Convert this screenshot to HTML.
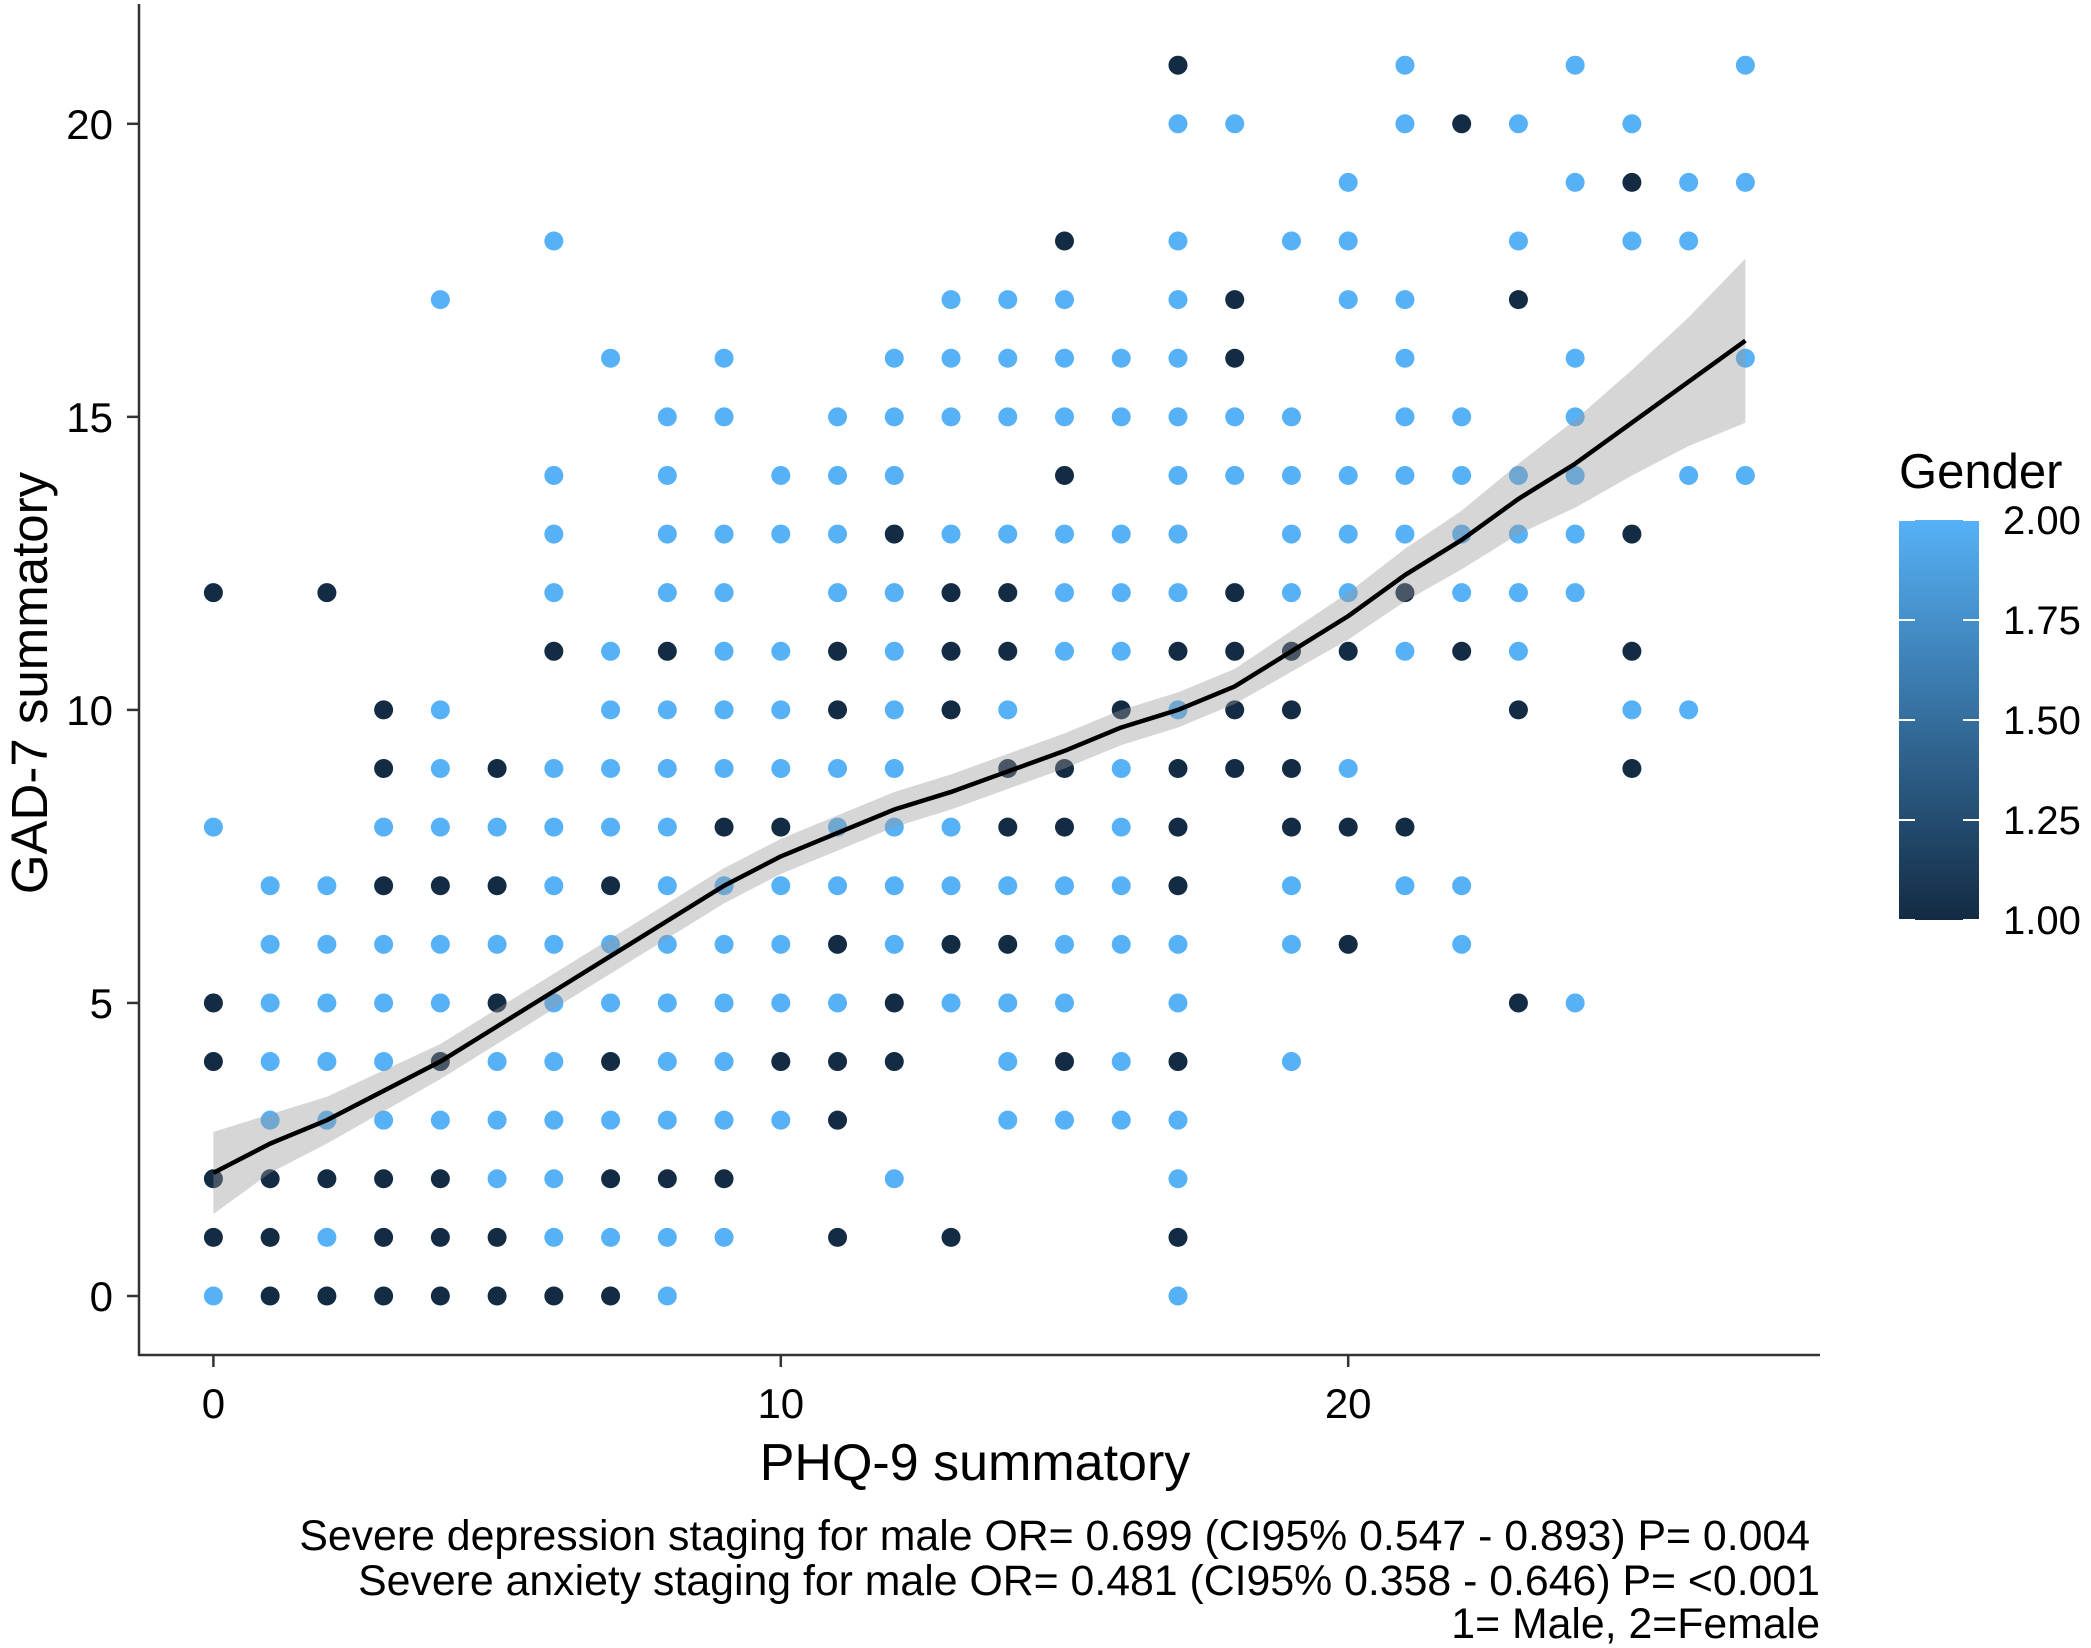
<!DOCTYPE html>
<html><head><meta charset="utf-8"><style>
html,body{margin:0;padding:0;background:#fff;}
svg{display:block;font-family:"Liberation Sans",Arial,sans-serif;}
</style></head><body>
<svg id="chart" width="2091" height="1648" viewBox="0 0 2091 1648">
<g id="points"></g>
<g id="smooth"></g>
<g id="axes"></g>
<g id="legend"></g>
<g id="notes">
<text x="1810" y="1550" font-size="42.8" text-anchor="end">Severe depression staging for male OR= 0.699 (CI95% 0.547 - 0.893) P= 0.004</text>
<text x="1820" y="1595" font-size="42.8" text-anchor="end">Severe anxiety staging for male OR= 0.481 (CI95% 0.358 - 0.646) P= &lt;0.001</text>
<text x="1820" y="1638" font-size="42.8" text-anchor="end">1= Male, 2=Female</text>
</g>
</svg>
<script>
// PHQ-9 score per point (grouped by GAD-7 row)
const phq = [
0,1,2,3,4,5,6,7,8,17,
0,1,2,3,4,5,6,7,8,9,11,13,17,
0,1,2,3,4,5,6,7,8,9,12,17,
1,2,3,4,5,6,7,8,9,10,11,14,15,16,17,
0,1,2,3,4,5,6,7,8,9,10,11,12,14,15,16,17,19,
0,1,2,3,4,5,6,7,8,9,10,11,12,13,14,15,17,23,24,
1,2,3,4,5,6,7,8,9,10,11,12,13,14,15,16,17,19,20,22,
1,2,3,4,5,6,7,8,9,10,11,12,13,14,15,16,17,19,21,22,
0,3,4,5,6,7,8,9,10,11,12,13,14,15,16,17,19,20,21,
3,4,5,6,7,8,9,10,11,12,14,15,16,17,18,19,20,25,
3,4,7,8,9,10,11,12,13,14,16,17,18,19,23,25,26,
6,7,8,9,10,11,12,13,14,15,16,17,18,19,20,21,22,23,25,
0,2,6,8,9,11,12,13,14,15,16,17,18,19,20,21,22,23,24,
6,8,9,10,11,12,13,14,15,16,17,19,20,21,22,23,24,25,
6,8,10,11,12,15,17,18,19,20,21,22,23,24,26,27,
8,9,11,12,13,14,15,16,17,18,19,21,22,24,
7,9,12,13,14,15,16,17,18,21,24,27,
4,13,14,15,17,18,20,21,23,
6,15,17,19,20,23,25,26,
20,24,25,26,27,
17,18,21,22,23,25,
17,21,24,27];
// GAD-7 score per point
const gad = [
0,0,0,0,0,0,0,0,0,0,
1,1,1,1,1,1,1,1,1,1,1,1,1,
2,2,2,2,2,2,2,2,2,2,2,2,
3,3,3,3,3,3,3,3,3,3,3,3,3,3,3,
4,4,4,4,4,4,4,4,4,4,4,4,4,4,4,4,4,4,
5,5,5,5,5,5,5,5,5,5,5,5,5,5,5,5,5,5,5,
6,6,6,6,6,6,6,6,6,6,6,6,6,6,6,6,6,6,6,6,
7,7,7,7,7,7,7,7,7,7,7,7,7,7,7,7,7,7,7,7,
8,8,8,8,8,8,8,8,8,8,8,8,8,8,8,8,8,8,8,
9,9,9,9,9,9,9,9,9,9,9,9,9,9,9,9,9,9,
10,10,10,10,10,10,10,10,10,10,10,10,10,10,10,10,10,
11,11,11,11,11,11,11,11,11,11,11,11,11,11,11,11,11,11,11,
12,12,12,12,12,12,12,12,12,12,12,12,12,12,12,12,12,12,12,
13,13,13,13,13,13,13,13,13,13,13,13,13,13,13,13,13,13,
14,14,14,14,14,14,14,14,14,14,14,14,14,14,14,14,
15,15,15,15,15,15,15,15,15,15,15,15,15,15,
16,16,16,16,16,16,16,16,16,16,16,16,
17,17,17,17,17,17,17,17,17,
18,18,18,18,18,18,18,18,
19,19,19,19,19,
20,20,20,20,20,20,
21,21,21,21];
// Gender per point (1 = male, 2 = female)
const gender = [
2,1,1,1,1,1,1,1,2,2,
1,1,2,1,1,1,2,2,2,2,1,1,1,
1,1,1,1,1,2,2,1,1,1,2,2,
2,2,2,2,2,2,2,2,2,2,1,2,2,2,2,
1,2,2,2,1,2,2,1,2,2,1,1,1,2,1,2,1,2,
1,2,2,2,2,1,2,2,2,2,2,2,1,2,2,2,2,1,2,
2,2,2,2,2,2,2,2,2,2,1,2,1,1,2,2,2,2,1,2,
2,2,1,1,1,2,1,2,2,2,2,2,2,2,2,2,1,2,2,2,
2,2,2,2,2,2,2,1,1,2,2,2,1,1,2,1,1,1,1,
1,2,1,2,2,2,2,2,2,2,1,1,2,1,1,1,2,1,
1,2,2,2,2,2,1,2,1,2,1,2,1,1,1,2,2,
1,2,1,2,2,1,2,1,1,2,2,1,1,1,1,2,1,2,1,
1,1,2,2,2,2,2,1,1,2,2,2,1,2,2,1,2,2,2,
2,2,2,2,2,1,2,2,2,2,2,2,2,2,2,2,2,1,
2,2,2,2,2,1,2,2,2,2,2,2,2,2,2,2,
2,2,2,2,2,2,2,2,2,2,2,2,2,2,
2,2,2,2,2,2,2,2,1,2,2,2,
2,2,2,2,2,1,2,2,1,
2,1,2,2,2,2,2,2,
2,2,1,2,2,
2,2,2,1,2,2,
1,2,2,2];
// LOESS fit
const smoothX = [0,1,2,3,4,5,6,7,8,9,10,11,12,13,14,15,16,17,18,19,20,21,22,23,24,25,26,27];
const smoothY = [2.1,2.6,3.0,3.5,4.0,4.6,5.2,5.8,6.4,7.0,7.5,7.9,8.3,8.6,8.95,9.3,9.7,10.0,10.4,11.0,11.6,12.3,12.9,13.6,14.2,14.9,15.6,16.3];
const smoothSE = [0.7,0.5,0.4,0.35,0.3,0.3,0.3,0.3,0.3,0.3,0.3,0.3,0.3,0.3,0.3,0.3,0.3,0.3,0.3,0.35,0.4,0.45,0.5,0.6,0.75,0.9,1.1,1.4];
const xTicks = [0,10,20];
const yTicks = [0,5,10,15,20];
const legendTicks = [1.00,1.25,1.50,1.75,2.00];

const NS = "http://www.w3.org/2000/svg";
const X = v => 213.4 + 56.74 * v;
const Y = v => 1296 - 58.61 * v;
function lerpColor(t){
  const a=[0x13,0x2B,0x43], b=[0x56,0xB1,0xF7];
  return "rgb("+a.map((c,i)=>Math.round(c+(b[i]-c)*t)).join(",")+")";
}
function mk(tag, attrs, parent){
  const e=document.createElementNS(NS,tag);
  for(const k in attrs) e.setAttribute(k,attrs[k]);
  parent.appendChild(e); return e;
}
const gp=document.getElementById("points");
for(let i=0;i<phq.length;i++){
  const c=mk("circle",{cx:X(phq[i]),cy:Y(gad[i]),r:9.5,fill:lerpColor(gender[i]-1)},gp);
  
  
}
const gs=document.getElementById("smooth");
let up="",lo="",ln="";
for(let i=0;i<smoothX.length;i++){
  up+=(i?"L":"M")+X(smoothX[i])+","+Y(smoothY[i]+smoothSE[i]);
  ln+=(i?"L":"M")+X(smoothX[i])+","+Y(smoothY[i]);
}
for(let i=smoothX.length-1;i>=0;i--) lo+="L"+X(smoothX[i])+","+Y(smoothY[i]-smoothSE[i]);
const rib=mk("path",{d:up+lo+"Z",fill:"#999",opacity:0.4},gs);


const line=mk("path",{d:ln,fill:"none",stroke:"#000","stroke-width":4.5,"stroke-linejoin":"round"},gs);



const ga=document.getElementById("axes");
const ya=mk("line",{x1:139,y1:4,x2:139,y2:1356,stroke:"#333","stroke-width":2.5},ga);


const xa=mk("line",{x1:138,y1:1355,x2:1820,y2:1355,stroke:"#333","stroke-width":2.5},ga);


yTicks.forEach(v=>{
  const t=mk("line",{x1:127,x2:139,y1:Y(v),y2:Y(v),stroke:"#333","stroke-width":2.5},ga);
  
  
  const l=mk("text",{x:113,y:Y(v)+15,"font-size":42,"text-anchor":"end",fill:"#000"},ga);
  l.textContent=v;
  
  
});
xTicks.forEach(v=>{
  const t=mk("line",{x1:X(v),x2:X(v),y1:1355,y2:1367,stroke:"#333","stroke-width":2.5},ga);
  
  
  const l=mk("text",{x:X(v),y:1418,"font-size":42,"text-anchor":"middle",fill:"#000"},ga);
  l.textContent=v;
  
  
});
const xt=mk("text",{x:975,y:1480,"font-size":52,"text-anchor":"middle"},ga);
xt.textContent="PHQ-9 summatory";


const yt=mk("text",{x:0,y:0,"font-size":51,"text-anchor":"middle",transform:"translate(47,683) rotate(-90)"},ga);
yt.textContent="GAD-7 summatory";



const gl=document.getElementById("legend");
const defs=mk("defs",{},gl);
const grad=mk("linearGradient",{id:"cg",x1:0,y1:0,x2:0,y2:1},defs);
mk("stop",{offset:"0","stop-color":"#56B1F7"},grad);
mk("stop",{offset:"1","stop-color":"#132B43"},grad);
const lt=mk("text",{x:1899,y:488,"font-size":49},gl);
lt.textContent="Gender";


const bar=mk("rect",{x:1899,y:520,width:80,height:400,fill:"url(#cg)"},gl);


const LY=v=>920-(v-1)*400;
legendTicks.forEach(v=>{
  const a=mk("line",{x1:1899,x2:1915,y1:LY(v),y2:LY(v),stroke:"#fff","stroke-width":2},gl);
  
  
  const b=mk("line",{x1:1963,x2:1979,y1:LY(v),y2:LY(v),stroke:"#fff","stroke-width":2},gl);
  
  
  const l=mk("text",{x:2003,y:LY(v)+14,"font-size":40},gl);
  l.textContent=v.toFixed(2);
  
  
});
</script>
</body></html>
